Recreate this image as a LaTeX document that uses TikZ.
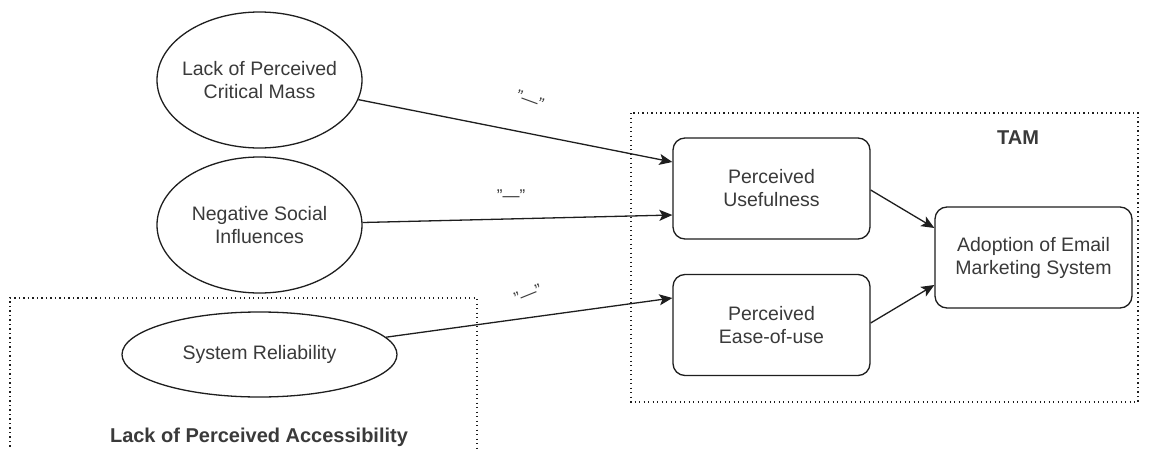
\documentclass[tikz,border=0pt]{standalone}
\usepackage{fontspec}
\setmainfont{Liberation Sans}
\usetikzlibrary{shapes.geometric,arrows.meta}
\definecolor{txt}{HTML}{3A3A3A}
\definecolor{ln}{HTML}{1E1E1E}
\tikzset{
  base/.style={draw=ln, line width=1.3pt, text=txt, font=\fontsize{19.5}{23}\selectfont, align=center, inner sep=0pt},
  oval/.style={base, ellipse, inner sep=-8pt},
  rbox/.style={base, rectangle, rounded corners=12pt, minimum width=197pt, minimum height=101pt},
  conn/.style={draw=ln, line width=1.3pt, -{Stealth[length=13pt,width=11pt,inset=3pt]}},
  dotbox/.style={draw=ln, line width=1.2pt, dash pattern=on 1.3pt off 3.2pt},
  grp/.style={text=txt, font=\fontsize{20}{24}\selectfont\bfseries},
  sign/.style={text=txt, font=\fontsize{17}{20}\selectfont, inner sep=0pt}
}
\begin{document}
\begin{tikzpicture}[x=1pt,y=-1pt]
\useasboundingbox[fill=white] (0,0) rectangle (1163,450);
% group frames
\draw[dotbox] (631,113) rectangle (1138,402);
\draw[dotbox] (10,451) -- (10,298) -- (477,298) -- (477,451);
\node[grp] (tam) at (1018,138) {TAM};
\node[grp] (acc) at (259,437) {Lack of Perceived Accessibility};
% constructs
\node[oval, minimum width=205pt, minimum height=136pt] (e1) at (259.5,80) {Lack of Perceived\\Critical Mass};
\node[oval, minimum width=205pt, minimum height=136pt] (e2) at (259.5,225) {Negative Social\\Influences};
\node[oval, minimum width=275pt, minimum height=85pt] (e3) at (259.5,354.5) {System Reliability};
\node[rbox] (pu) at (771.5,188.5) {Perceived\\Usefulness};
\node[rbox] (peu) at (771.5,325) {Perceived\\Ease-of-use};
\node[rbox] (ad) at (1033.5,257.5) {Adoption of Email\\Marketing System};
% connectors
\draw[conn] (e1) -- ([yshift=26.5pt]pu.west);
\draw[conn] (e2) -- ([yshift=-26.5pt]pu.west);
\draw[conn] (e3) -- ([yshift=27pt]peu.west);
\draw[conn] ([yshift=-1.5pt]pu.east) -- ([yshift=29.5pt]ad.west);
\draw[conn] ([yshift=2pt]peu.east) -- ([yshift=-27.5pt]ad.west);
% signs
\node[sign, rotate=-20] (s1) at (530,100) {\char"22\char"2014\char"22};
\node[sign] (s2) at (511,196) {\char"22\char"2014\char"22};
\node[sign, rotate=22] (s3) at (528,294) {\char"22\char"2014\char"22};
\end{tikzpicture}
\end{document}
